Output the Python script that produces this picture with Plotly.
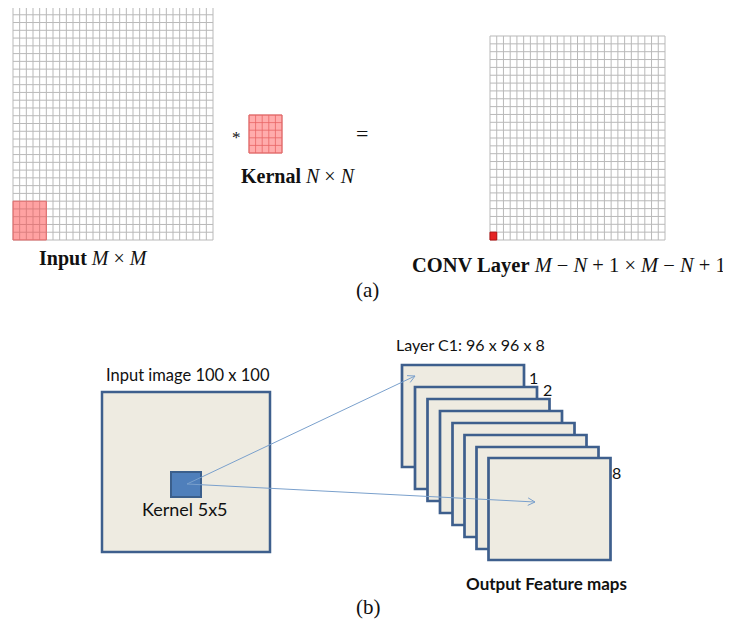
import numpy as np
import plotly.graph_objects as go

# ---------------- content ----------------
input_cells = 30          # M
kernel_cells = 5          # N
conv_cells = input_cells - kernel_cells + 1   # M-N+1
n_feature_maps = 8
map_number_labels = {0: "1", 1: "2", 7: "8"}

txt_input = "<b>Input</b> <i>M</i> × <i>M</i>"
txt_kernel = "<b>Kernal</b> <i>N</i> × <i>N</i>"
txt_conv = ("<b>CONV Layer</b> <i>M</i> − <i>N</i> + 1 × <i>M</i> − <i>N</i> + 1")
txt_star = "*"
txt_eq = "="
txt_a = "(a)"
txt_b = "(b)"
txt_input_img = "Input image 100 x 100"
txt_kernel_b = "Kernel 5x5"
txt_layer = "Layer C1: 96 x 96 x 8"
txt_output = "<b>Output Feature maps</b>"

# ---------------- layout constants ----------------
W, H = 731, 622
OFF = 8   # page body margin
GRID_COL = "#b9b9b9"
PINK_FILL = "rgba(255,70,70,0.5)"
PINK_LINE = "#e36b6b"
BLUE_BORDER = "#3e5f8d"
BEIGE = "#eeebe1"
ARROW_COL = "#7aa0cc"

fig = go.Figure()
shapes = []
annotations = []


def grid_trace(x0, y0, x1, y1, n, color=GRID_COL, width=1):
    xs, ys = [], []
    for x in np.linspace(x0, x1, n + 1):
        xs += [x, x, None]
        ys += [y0, y1, None]
    for y in np.linspace(y0, y1, n + 1):
        xs += [x0, x1, None]
        ys += [y, y, None]
    return go.Scatter(x=xs, y=ys, mode="lines", line=dict(color=color, width=width),
                      hoverinfo="skip", showlegend=False)


def text(x, y, s, size, family, color="#111111", xanchor="center"):
    annotations.append(dict(x=x, y=y, xref="x", yref="y", text=s, showarrow=False,
                            xanchor=xanchor, yanchor="middle",
                            font=dict(size=size, family=family, color=color)))


# ---------------- panel (a) ----------------
ix0, iy0, ix1, iy1 = 13, 7, 213, 240
fig.add_trace(grid_trace(ix0, iy0, ix1, iy1, input_cells))
cw = (ix1 - ix0) / input_cells
ch = (iy1 - iy0) / input_cells
shapes.append(dict(type="rect", xref="x", yref="y", x0=ix0, x1=ix0 + kernel_cells * cw,
                   y0=iy1 - kernel_cells * ch, y1=iy1, fillcolor=PINK_FILL,
                   line=dict(color=PINK_LINE, width=1), layer="above"))

kx0, ky0, kx1, ky1 = 249, 115, 282, 153
fig.add_trace(grid_trace(kx0, ky0, kx1, ky1, kernel_cells, color="#d07070", width=0.8))
shapes.append(dict(type="rect", xref="x", yref="y", x0=kx0, x1=kx1, y0=ky0, y1=ky1,
                   fillcolor="rgba(255,90,90,0.5)", line=dict(color=PINK_LINE, width=1),
                   layer="above"))

cx0, cy0, cx1, cy1 = 490, 36, 665, 240
fig.add_trace(grid_trace(cx0, cy0, cx1, cy1, conv_cells))
ccw = (cx1 - cx0) / conv_cells
cch = (cy1 - cy0) / conv_cells
shapes.append(dict(type="rect", xref="x", yref="y", x0=cx0, x1=cx0 + ccw,
                   y0=cy1 - cch, y1=cy1, fillcolor="#e52424",
                   line=dict(color="#b51010", width=1), layer="above"))

SERIF = "Liberation Serif"
text(93, 258, txt_input, 20, SERIF)
text(236, 137, txt_star, 17, SERIF)
text(362, 133, txt_eq, 22, SERIF)
text(298, 176, txt_kernel, 20, SERIF)
text(728, 265, txt_conv, 20.5, SERIF, xanchor="right")
text(367, 290, txt_a, 21, SERIF)

# ---------------- panel (b) ----------------
SANS = "Lato"
shapes.append(dict(type="rect", xref="x", yref="y", x0=102, x1=270, y0=392, y1=552,
                   fillcolor=BEIGE, line=dict(color=BLUE_BORDER, width=2.5), layer="below"))
shapes.append(dict(type="rect", xref="x", yref="y", x0=171, x1=201, y0=472, y1=497,
                   fillcolor="#4f7fbb", line=dict(color="#3b5f8c", width=2), layer="below"))

map_lefts = [402, 415, 427.5, 440, 452.5, 464.5, 476.5, 488.5]
map_tops = [365, 387, 399, 411, 423, 435, 447, 458]
map_w, map_h = 122, 102
for i in range(n_feature_maps):
    shapes.append(dict(type="rect", xref="x", yref="y", x0=map_lefts[i], x1=map_lefts[i] + map_w,
                       y0=map_tops[i], y1=map_tops[i] + map_h, fillcolor=BEIGE,
                       line=dict(color=BLUE_BORDER, width=2.7), layer="below"))


def arrow(x0, y0, x1, y1, head=8, ang=np.radians(28)):
    dx, dy = x1 - x0, y1 - y0
    L = np.hypot(dx, dy)
    ux, uy = dx / L, dy / L
    xs = [x0, x1, None]
    ys = [y0, y1, None]
    for s in (1, -1):
        c, sn = np.cos(s * ang), np.sin(s * ang)
        bx = -(ux * c - uy * sn) * head
        by = -(ux * sn + uy * c) * head
        xs += [x1, x1 + bx, None]
        ys += [y1, y1 + by, None]
    fig.add_trace(go.Scatter(x=xs, y=ys, mode="lines", line=dict(color=ARROW_COL, width=1),
                             hoverinfo="skip", showlegend=False))

arrow(187, 484, 415, 376)
arrow(187, 484, 535, 502)

text(188, 375, txt_input_img, 16.5, SANS)
text(185, 509, txt_kernel_b, 18, SANS)
text(470, 344, txt_layer, 16, SANS)
label_pos = {0: (533, 377), 1: (547, 389), 7: (616, 472)}
for i, s in map_number_labels.items():
    text(label_pos[i][0], label_pos[i][1], s, 16, SANS)
text(546, 583, txt_output, 17, SANS)
text(368, 607, txt_b, 21, SERIF)

fig.update_layout(width=W - OFF, height=H - OFF, margin=dict(l=0, r=0, t=0, b=0),
                  paper_bgcolor="white", plot_bgcolor="white",
                  xaxis=dict(range=[OFF, W], visible=False, fixedrange=True),
                  yaxis=dict(range=[H, OFF], visible=False, fixedrange=True),
                  shapes=shapes, annotations=annotations, showlegend=False)
fig.write_html("out.html")
